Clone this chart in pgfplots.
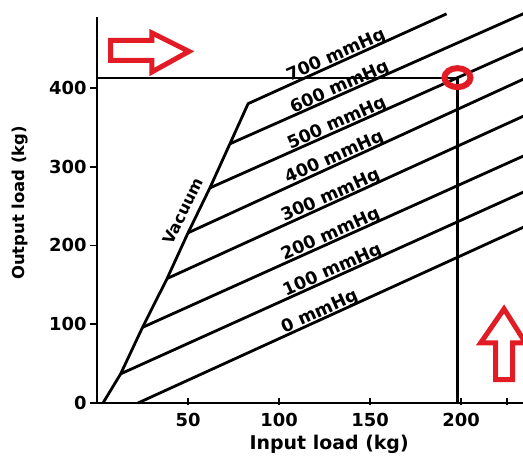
\documentclass[border=0pt]{standalone}
\usepackage{fontspec}
\setmainfont{DejaVu Sans}
\usepackage{pgfplots}
\pgfplotsset{compat=1.18}
\definecolor{arrred}{RGB}{226,28,36}
\begin{document}
\begin{tikzpicture}
\begin{axis}[
  scale only axis, width=426bp, height=386bp,
  xmin=0, xmax=234, ymin=0, ymax=490,
  axis lines=left, axis line style={line width=2.5bp, -},
  clip=false,
  xtick={50,100,150,200,225}, xticklabels={50,100,150,200,{}},
  ytick={0,100,200,300,400},
  tick style={line width=1.8bp, black},
  major tick length=7bp,
  tick align=outside,
  x tick style={yshift=5bp},
  /pgf/number format/assume math mode=true,
  every tick label/.append style={font=\fontsize{18}{18}\selectfont\bfseries},
  xlabel={Input load (kg)}, ylabel={Output load (kg)},
  x label style={at={(axis description cs:0.545,-0.106)}, anchor=center, font=\fontsize{19}{19}\selectfont\bfseries},
  y label style={at={(axis description cs:-0.181,0.518)}, anchor=center, font=\fontsize{16.5}{16.5}\selectfont\bfseries},
]
\coordinate (O) at (axis cs:0,0);
% vacuum line joined to the 700 mmHg line
\addplot[black, line width=2.8bp, line join=round] coordinates {(3.3,0) (13,37) (25,96) (38.5,158) (50,216) (62,273) (73,329) (83,380) (192,494)};
% pressure lines
\addplot[black, line width=2.8bp] coordinates {(22.5,0) (236,225)};
\addplot[black, line width=2.8bp] coordinates {(13,37) (236,269.6)};
\addplot[black, line width=2.8bp] coordinates {(25,96) (236,315.4)};
\addplot[black, line width=2.8bp] coordinates {(38.5,158) (236,366)};
\addplot[black, line width=2.8bp] coordinates {(50,216) (236,413)};
\addplot[black, line width=2.8bp] coordinates {(62,273) (236,452)};
\addplot[black, line width=2.8bp] coordinates {(73,329) (236,496)};
% guide lines
\addplot[black, line width=2.2bp] coordinates {(0,413) (198,413) (198,0)};
\addplot[only marks, mark=o, mark size=9.5bp, mark options={draw=arrred, line width=6bp, xscale=1.37}] coordinates {(198,413)};
% labels
\begin{scope}[every node/.style={rotate=24, anchor=base, yshift=2.5bp, inner sep=0pt, font=\fontsize{17.5}{17.5}\selectfont\bfseries}]
\node at (axis cs:133,432.5) {700 mmHg};
\node at (axis cs:135,392.5) {600 mmHg};
\node at (axis cs:133.5,346.6) {500 mmHg};
\node at (axis cs:132,302.9) {400 mmHg};
\node at (axis cs:130,254.3) {300 mmHg};
\node at (axis cs:130,205.2) {200 mmHg};
\node at (axis cs:131,160) {100 mmHg};
\node at (axis cs:124,107) {0 mmHg};
\end{scope}
\node[rotate=64, anchor=base, yshift=8bp, inner sep=0pt, font=\fontsize{16}{16}\selectfont\bfseries] at (axis cs:54.2,236) {Vacuum};
% red arrows
\draw[arrred, line width=5bp, fill=white, line join=miter] (axis cs:7.42,460.3) -- (axis cs:30.2,460.3) -- (axis cs:30.2,469.8) -- (axis cs:50.5,446.3) -- (axis cs:30.2,420.3) -- (axis cs:30.2,434.9) -- (axis cs:7.42,434.9) -- cycle;
\draw[arrred, line width=5bp, fill=white, line join=miter] (axis cs:223.6,119.4) -- (axis cs:235.4,76.2) -- (axis cs:228.3,76.2) -- (axis cs:228.3,29.8) -- (axis cs:219.0,29.8) -- (axis cs:219.0,76.2) -- (axis cs:210.7,76.2) -- cycle;
\end{axis}
\pgfresetboundingbox
\path (O) ++(-97bp,-53bp) rectangle ++(523bp,456bp);
\end{tikzpicture}
\end{document}
